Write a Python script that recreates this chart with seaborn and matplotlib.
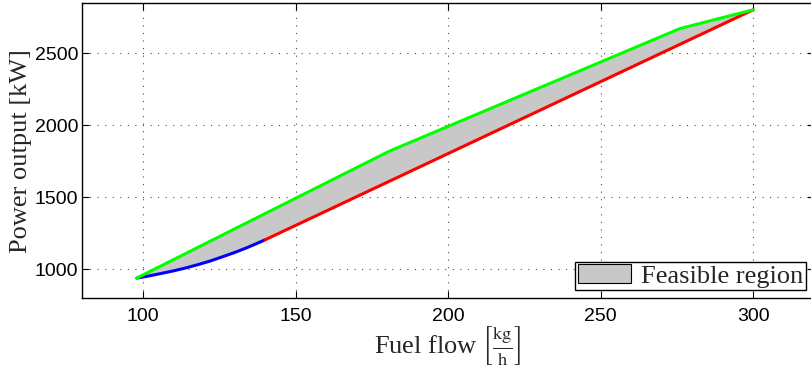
import numpy as np
import pandas as pd
import matplotlib
matplotlib.use("Agg")
import matplotlib.pyplot as plt
import seaborn as sns
from matplotlib.patches import Patch

# Data
blue_x = [98, 102, 106, 110, 114, 118, 122, 126, 130, 134, 137, 140]
blue_y = [940, 955, 972, 990, 1010, 1033, 1058, 1087, 1117, 1150, 1177, 1205]
red_x = [140, 300]
red_y = [1205, 2800]
green_x = [98, 180, 181, 276, 300]
green_y = [940, 1812, 1822, 2670, 2800]

x_ticks = [100, 150, 200, 250, 300]
y_ticks = [1000, 1500, 2000, 2500]
legend_label = "Feasible region"

sns.set_theme(style="white")
plt.rcParams["mathtext.fontset"] = "stix"

fig = plt.figure(figsize=(8.11, 3.68), dpi=100)
ax = fig.add_axes([0.101, 0.1895, 0.903, 0.8015])

# Feasible region polygon: upper boundary then lower boundary reversed
lower_x = blue_x + red_x[1:]
lower_y = blue_y + red_y[1:]
poly_x = green_x + lower_x[::-1]
poly_y = green_y + lower_y[::-1]
ax.fill(poly_x, poly_y, facecolor="#c8c8c8", edgecolor="none", zorder=1)

df_b = pd.DataFrame({"x": blue_x, "y": blue_y})
df_r = pd.DataFrame({"x": red_x, "y": red_y})
df_g = pd.DataFrame({"x": green_x, "y": green_y})
sns.lineplot(data=df_b, x="x", y="y", color="#0000ff", lw=2.2, sort=False, ax=ax, zorder=3)
sns.lineplot(data=df_r, x="x", y="y", color="#ff0000", lw=2.2, sort=False, ax=ax, zorder=3)
sns.lineplot(data=df_g, x="x", y="y", color="#00ff00", lw=2.2, sort=False, ax=ax, zorder=3)

ax.set_xlim(80, 320)
ax.set_ylim(800, 2845)
ax.set_xticks(x_ticks)
ax.set_yticks(y_ticks)
ax.set_xticklabels([str(v) for v in x_ticks], family="Liberation Sans", fontsize=14)
ax.set_yticklabels([str(v) for v in y_ticks], family="Liberation Sans", fontsize=14)

ax.grid(True, linestyle=(0, (1, 5.8)), color="0.3", lw=0.8)
ax.tick_params(direction="in", length=5, width=0.8, top=True, right=True,
               bottom=True, left=True, colors="black")
ax.tick_params(axis="y", pad=2.5)
ax.tick_params(axis="x", pad=7)
for s in ax.spines.values():
    s.set_color("black")
    s.set_linewidth(1.0)

ax.set_xlabel(r"Fuel flow $\left[\frac{\mathrm{kg}}{\mathrm{h}}\right]$", family="Liberation Serif",
              fontsize=19, labelpad=0)
ax.set_ylabel("Power output [kW]", family="Liberation Serif", fontsize=19)
ax.yaxis.set_label_coords(-0.068, 0.5)

handle = Patch(facecolor="#c8c8c8", edgecolor="black", lw=0.8)
leg = ax.legend([handle], [legend_label], loc="lower right", bbox_to_anchor=(1.0, 0.0),
                prop={"family": "Liberation Serif", "size": 19}, fancybox=False,
                framealpha=1, edgecolor="black", borderpad=0.1, handlelength=2.0,
                handleheight=0.7, handletextpad=0.4, borderaxespad=0.3)
leg.get_frame().set_linewidth(1.0)

fig.savefig("out.png", dpi=100)
